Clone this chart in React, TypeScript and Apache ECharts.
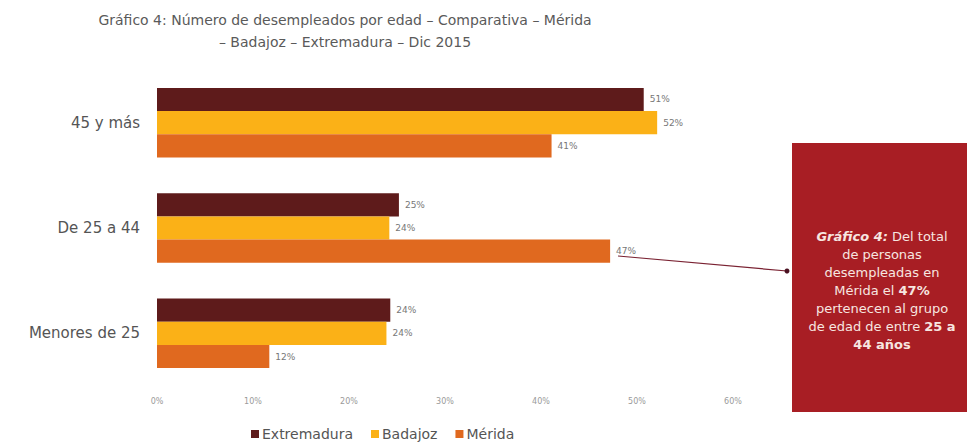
import React, { useEffect, useRef } from "react";
import * as echarts from "echarts";

const categories = ["45 y más", "De 25 a 44", "Menores de 25"];
const seriesNames = ["Extremadura", "Badajoz", "Mérida"];
const extremadura = [50.7, 25.2, 24.3];
const badajoz = [52.1, 24.2, 23.9];
const merida = [41.1, 47.2, 11.7];
const colors = ["#5e1b1b", "#fbb117", "#e0691f"];
const xTicks = [0, 10, 20, 30, 40, 50, 60];

const FONT = "DejaVu Sans";

export default function App() {
  const ref = useRef<HTMLDivElement>(null);
  useEffect(() => {
    if (!ref.current) return;
    const chart = echarts.init(ref.current, null, { renderer: "svg" });
    const values = [extremadura, badajoz, merida];
    const series = seriesNames.map((name, i) => ({
      name,
      type: "bar",
      data: values[i],
      barGap: "0%",
      barCategoryGap: "34%",
      itemStyle: { color: colors[i] },
      label: {
        show: true,
        position: "right",
        distance: 6,
        fontFamily: FONT,
        fontSize: 9,
        color: "#777",
        formatter: (p: any) => Math.round(p.value) + "%",
      },
    }));
    chart.setOption({
      animation: false,
      backgroundColor: "#ffffff",
      textStyle: { fontFamily: FONT },
      title: {
        text: "Gráfico 4: Número de desempleados por edad – Comparativa – Mérida\n– Badajoz – Extremadura – Dic 2015",
        left: 340,
        textAlign: "center",
        top: 4,
        textStyle: {
          fontFamily: FONT,
          fontSize: 14,
          fontWeight: "normal",
          color: "#5a5a5a",
          lineHeight: 22,
        },
      },
      legend: {
        data: seriesNames,
        left: 246,
        top: 422,
        itemWidth: 8,
        itemHeight: 8,
        itemGap: 18,
        icon: "rect",
        textStyle: { fontFamily: FONT, fontSize: 14, color: "#555", padding: [0, 0, 0, -2] },
      },
      grid: { left: 157, right: 234, top: 70, bottom: 60, containLabel: false },
      xAxis: {
        type: "value",
        min: xTicks[0],
        max: xTicks[xTicks.length - 1],
        interval: 10,
        axisLine: { show: false },
        axisTick: { show: false },
        splitLine: { show: false },
        axisLabel: {
          formatter: "{value}%",
          fontFamily: FONT,
          fontSize: 8,
          color: "#9a9a9a",
          margin: 11,
        },
      },
      yAxis: {
        type: "category",
        data: categories,
        inverse: true,
        axisLine: { show: false },
        axisTick: { show: false },
        axisLabel: {
          fontFamily: FONT,
          fontSize: 15,
          color: "#555",
          margin: 17,
        },
      },
      series,
      graphic: [
        {
          type: "rect",
          left: 792,
          top: 143,
          shape: { width: 180, height: 269 },
          style: { fill: "#a81e24" },
          z: 10,
        },
        {
          type: "text",
          x: 882,
          y: 290,
          z: 11,
          style: {
            text:
              "{bi|Gráfico 4:} Del total\nde personas\ndesempleadas en\nMérida el {b|47%}\npertenecen al grupo\nde edad de entre {b|25 a}\n{b|44 años}",
            align: "center",
            verticalAlign: "middle",
            fill: "#f7e6e0",
            font: "13px DejaVu Sans",
            lineHeight: 18,
            rich: {
              bi: { fontStyle: "italic", fontWeight: "bold", fontFamily: FONT, fontSize: 13, fill: "#f7e6e0" },
              b: { fontWeight: "bold", fontFamily: FONT, fontSize: 13, fill: "#f7e6e0" },
            },
          },
        },
        {
          type: "line",
          shape: { x1: 618, y1: 256, x2: 787, y2: 271 },
          style: { stroke: "#7a2232", lineWidth: 1.2 },
          z: 12,
        },
        {
          type: "circle",
          shape: { cx: 787, cy: 271, r: 2.5 },
          style: { fill: "#4a1020" },
          z: 12,
        },
      ],
    });
    return () => chart.dispose();
  }, []);
  return (
    <div
      ref={ref}
      style={{ position: "fixed", left: 0, top: 0, width: 967, height: 446 }}
    />
  );
}
